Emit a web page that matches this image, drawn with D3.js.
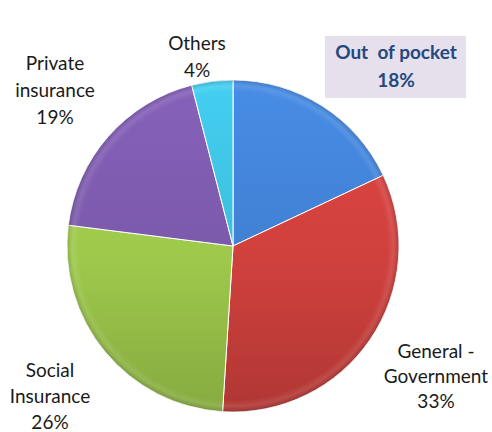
<!DOCTYPE html>
<html>
<head>
<meta charset="utf-8">
<script src="https://cdn.jsdelivr.net/npm/d3@7/dist/d3.min.js"></script>
<style>
  html, body { margin: 0; padding: 0; background: #ffffff; }
  svg { display: block; }
</style>
</head>
<body>
<svg id="chart" width="492" height="432"></svg>
<script>
// Health financing shares (%)
const categories = ["Out  of pocket", "General - Government", "Social Insurance", "Private insurance", "Others"];
const shares = [18, 33, 26, 19, 4];
const labelLines = [
  ["Out  of pocket", "18%"],
  ["General -", "Government", "33%"],
  ["Social", "Insurance", "26%"],
  ["Private", "insurance", "19%"],
  ["Others", "4%"]
];
const colors = ["#4180d2", "#cf403d", "#9dc84b", "#7b59aa", "#3dbddc"];

const svg = d3.select("#chart");
const cx = 233, cy = 246, r = 166;
const defs = svg.append("defs");

// Vertical shading per slice (group coordinates)
colors.forEach((c, i) => {
  const g = defs.append("linearGradient")
    .attr("id", "shade" + i)
    .attr("gradientUnits", "userSpaceOnUse")
    .attr("x1", 0).attr("y1", -r).attr("x2", 0).attr("y2", r);
  g.append("stop").attr("offset", "0%").attr("stop-color", d3.color(c).brighter(0.25));
  g.append("stop").attr("offset", "55%").attr("stop-color", c);
  g.append("stop").attr("offset", "100%").attr("stop-color", d3.color(c).darker(0.45));
});

// Soft bevel along the rim
const rim = defs.append("radialGradient")
  .attr("id", "rim")
  .attr("gradientUnits", "userSpaceOnUse")
  .attr("cx", 0).attr("cy", 0).attr("r", r);
rim.append("stop").attr("offset", "0%").attr("stop-color", "#fff").attr("stop-opacity", 0);
rim.append("stop").attr("offset", "93%").attr("stop-color", "#fff").attr("stop-opacity", 0);
rim.append("stop").attr("offset", "96.5%").attr("stop-color", "#fff").attr("stop-opacity", 0.1);
rim.append("stop").attr("offset", "100%").attr("stop-color", "#000").attr("stop-opacity", 0.14);

const pie = d3.pie().sort(null).value(d => d)
  .startAngle(0).endAngle(2 * Math.PI);
const arcs = pie(shares);
const arc = d3.arc().innerRadius(0).outerRadius(r);

const g = svg.append("g").attr("transform", `translate(${cx},${cy})`);

g.selectAll("path.slice")
  .data(arcs)
  .join("path")
  .attr("class", "slice")
  .attr("d", arc)
  .attr("fill", (d, i) => `url(#shade${i})`)
  .attr("stroke", "#ffffff")
  .attr("stroke-width", 1)
  .attr("stroke-linejoin", "round");

g.selectAll("path.rim")
  .data(arcs)
  .join("path")
  .attr("class", "rim")
  .attr("d", arc)
  .attr("fill", "url(#rim)")
  .attr("pointer-events", "none");

// Labels
const font = "Lato, 'Open Sans', sans-serif";
const labelPos = [
  { x: 396, y: 59, dy: 28, bold: true, color: "#23497e", size: 19 },
  { x: 436, y: 358, dy: 25, bold: false, color: "#1a1a1a", size: 19 },
  { x: 50, y: 377, dy: 26, bold: false, color: "#1a1a1a", size: 19 },
  { x: 55, y: 70, dy: 27, bold: false, color: "#1a1a1a", size: 19 },
  { x: 197, y: 50, dy: 27, bold: false, color: "#1a1a1a", size: 19 }
];

// Highlighted box behind the first label
svg.append("rect")
  .attr("x", 325).attr("y", 36)
  .attr("width", 141).attr("height", 62)
  .attr("fill", "#e6e0ec");

labelLines.forEach((lines, i) => {
  const p = labelPos[i];
  const t = svg.append("text")
    .attr("text-anchor", "middle")
    .attr("font-family", font)
    .attr("font-size", p.size)
    .attr("font-weight", p.bold ? 700 : 400)
    .attr("fill", p.color);
  lines.forEach((ln, k) => {
    t.append("tspan")
      .attr("x", p.x)
      .attr("y", p.y + k * p.dy)
      .style("white-space", "pre")
      .text(ln);
  });
});
</script>
</body>
</html>
